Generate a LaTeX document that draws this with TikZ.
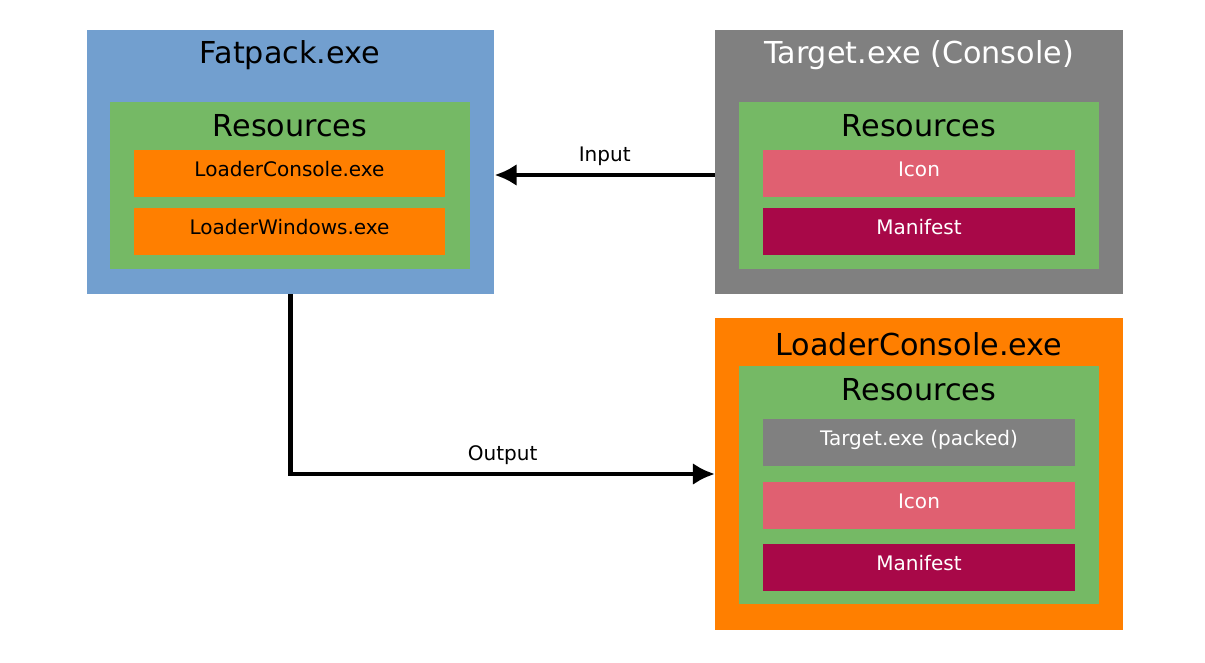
\documentclass[tikz,border=0pt]{standalone}
\usepackage{fontspec}
\setmainfont{DejaVu Sans}
\usepackage{tikz}
\usepackage{xcolor}
\usetikzlibrary{positioning,arrows.meta,calc}

\definecolor{exeblue}{RGB}{114,159,207}
\definecolor{exegray}{RGB}{128,128,128}
\definecolor{resgreen}{RGB}{117,185,101}
\definecolor{exeorange}{RGB}{255,127,0}
\definecolor{iconred}{RGB}{224,96,113}
\definecolor{manired}{RGB}{168,8,72}

\begin{document}
\begin{tikzpicture}[
    x=0.02cm, y=-0.02cm,
    outer/.style={
      rectangle,
      inner sep=0pt,
      minimum width=8.15cm
    },
    res/.style={
      rectangle,
      inner sep=0pt,
      fill=resgreen,
      minimum width=7.2cm
    },
    item/.style={
      rectangle,
      inner sep=0pt,
      minimum width=6.23cm,
      minimum height=0.94cm,
      text height=0.31cm,
      text depth=0.19cm,
      font=\fontsize{11.4}{13}\selectfont
    },
    title/.style={font=\fontsize{17.2}{20}\selectfont},
    arrow/.style={-{Latex[length=4.4mm,width=4.4mm]}, line width=0.09cm}
  ]
    \useasboundingbox (0,0) rectangle (1205,663);

    % Fatpack
    \node[outer, fill=exeblue, minimum height=5.28cm] (fat) at (290.5,162) {};
    \node[res, minimum height=3.34cm] (fatres) at (290,185.5) {};
    \node[title] (fattitle) at (290,55) {Fatpack.exe};
    \node[title] (fatrestitle) at (290,126) {Resources};
    \node[item, fill=exeorange] (fatcon) at (289.5,173.5) {LoaderConsole.exe};
    \node[item, fill=exeorange] (fatwin) at (289.5,231.5) {LoaderWindows.exe};

    % Target
    \node[outer, fill=exegray, minimum height=5.28cm] (tgt) at (919,162) {};
    \node[res, minimum height=3.34cm] (tgtres) at (919,185.5) {};
    \node[title, text=white] (tgttitle) at (919,55) {Target.exe (Console)};
    \node[title] (tgtrestitle) at (919,126) {Resources};
    \node[item, fill=iconred, text=white] (tgticon) at (919,173.5) {Icon};
    \node[item, fill=manired, text=white] (tgtman) at (919,231.5) {Manifest};

    % Loader output
    \node[outer, fill=exeorange, minimum height=6.24cm] (ldr) at (919,474) {};
    \node[res, minimum height=4.76cm] (ldrres) at (919,485) {};
    \node[title] (ldrtitle) at (919,344) {LoaderConsole.exe};
    \node[title] (ldrrestitle) at (919,390) {Resources};
    \node[item, fill=exegray, text=white] (ldrpacked) at (919,442.5) {Target.exe (packed)};
    \node[item, fill=iconred, text=white] (ldricon) at (919,505.5) {Icon};
    \node[item, fill=manired, text=white] (ldrman) at (919,567.5) {Manifest};

    \draw[arrow] ([yshift=-0.26cm]tgt.west) -- node[above=0.02cm, font=\fontsize{11.4}{13}\selectfont] {Input} ([yshift=-0.26cm]fat.east);
    \draw[arrow] (fat.south) |- node[above=0.02cm, pos=0.75, font=\fontsize{11.4}{13}\selectfont] {Output} (ldr.west);
  \end{tikzpicture}
\end{document}
